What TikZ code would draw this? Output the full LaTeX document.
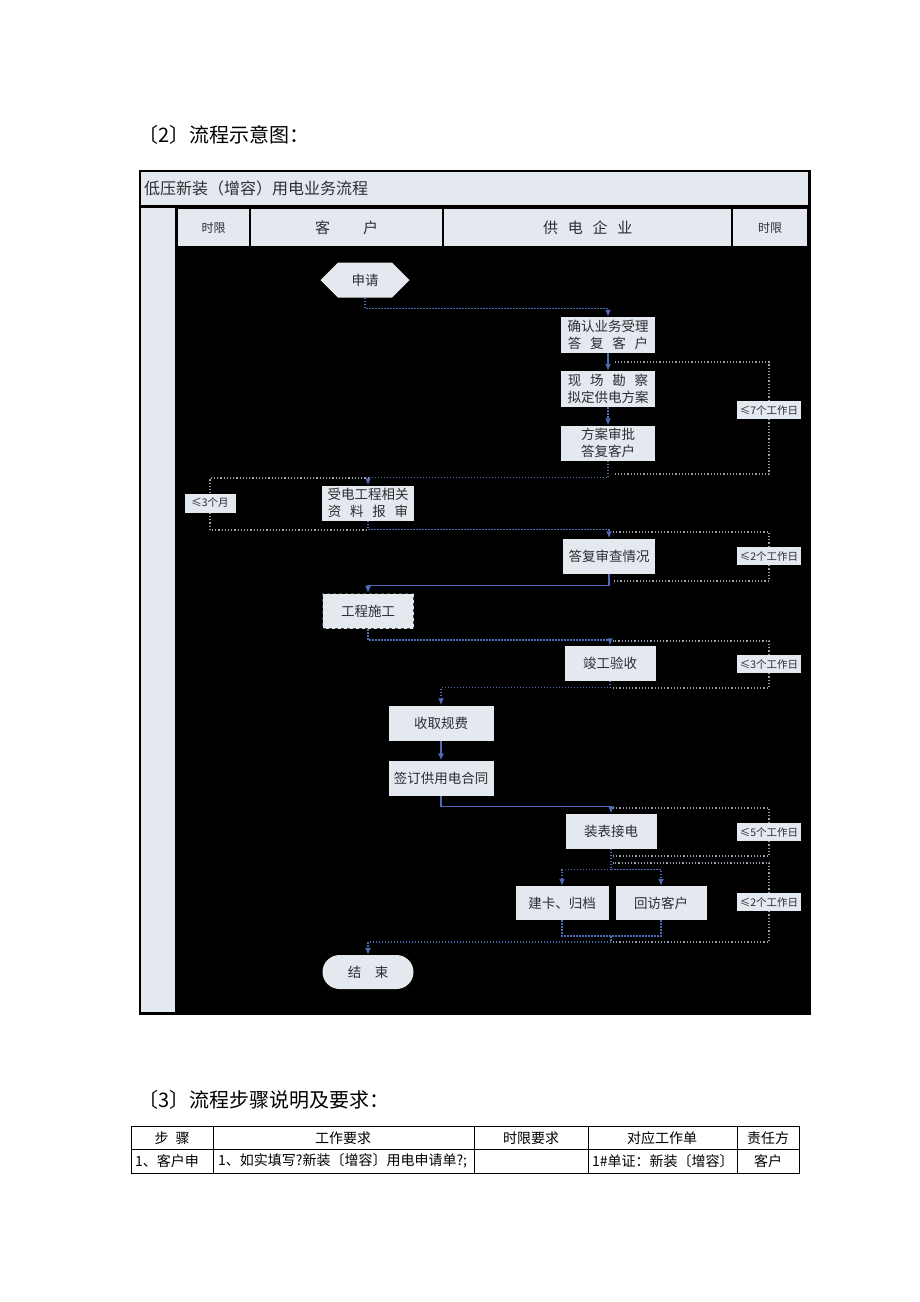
\documentclass[tikz,border=0pt]{standalone}
\usepackage{fontspec}
\setmainfont{Noto Sans CJK SC}
\usepackage{tikz}
\usetikzlibrary{arrows.meta,shapes.symbols}

\definecolor{boxfill}{RGB}{228,232,239}
\definecolor{boxtext}{RGB}{45,45,50}
\definecolor{flowblue}{RGB}{78,108,182}
\definecolor{limitgray}{RGB}{150,158,172}
\newcommand{\gap}{\hspace{0.65em}}

\begin{document}
\begin{tikzpicture}[x=1pt, y=-1pt, align=center, >={Latex[length=7pt,width=6pt]},
        stepbox/.style={fill=boxfill, text=boxtext, inner sep=0pt, minimum width=92pt, minimum height=35pt, font=\fontsize{13.5}{17}\selectfont},
        headcell/.style={fill=boxfill, text=boxtext, inner sep=0pt, minimum height=37pt, anchor=north west},
        daybox/.style={fill=boxfill, text=boxtext, inner sep=0pt, minimum width=64pt, minimum height=18pt, font=\fontsize{10.5}{12}\selectfont},
        flowline/.style={draw=flowblue, line width=1.2pt},
        flowdots/.style={flowline, line width=1.4pt, dash pattern=on 1.5pt off 1.5pt},
        limitline/.style={draw=limitgray, line width=1.2pt, dash pattern=on 1.2pt off 2pt},
        tabtext/.style={font=\fontsize{14}{16}\selectfont, inner sep=0pt}]
        \useasboundingbox (0,0) rectangle (920,1302);
        \fill[white] (0,0) rectangle (920,1302);

        \node[anchor=west, inner sep=0pt, font=\fontsize{20}{24}\selectfont] (Heading2) at (138,135) {〔2〕流程示意图：};

        \fill[black] (139,170) rectangle (811,1015);
        \node[fill=boxfill, text=boxtext, anchor=north west, text width=661pt, inner xsep=3pt, inner ysep=0pt, minimum height=33pt, align=left, font=\fontsize{16}{18}\selectfont] (Title) at (141,172) {低压新装（增容）用电业务流程};
        \fill[boxfill] (141,208) rectangle (175,1012);
        \node[headcell, minimum width=71pt, font=\fontsize{12}{14}\selectfont] (Time left) at (178,209) {时限};
        \node[headcell, minimum width=191pt, font=\fontsize{15}{17}\selectfont] (Customer) at (251,209) {客\hspace{2.2em}户};
        \node[headcell, minimum width=287pt, font=\fontsize{15}{17}\selectfont] (Supplier) at (444,209) {供\gap 电\gap 企\gap 业};
        \node[headcell, minimum width=74pt, font=\fontsize{12}{14}\selectfont] (Time right) at (733,209) {时限};

        \node[stepbox, shape=signal, signal to=west and east, minimum width=89pt] (Apply) at (365,280) {申请};
        \node[stepbox, minimum width=94pt, minimum height=36pt] (Confirm) at (608,335) {确认业务受理\\答\gap 复\gap 客\gap 户};
        \node[stepbox, minimum width=94pt, minimum height=36pt] (Survey) at (608,389) {现\gap 场\gap 勘\gap 察\\拟定供电方案};
        \node[stepbox, minimum width=94pt] (Approve) at (608,443) {方案审批\\答复客户};
        \node[stepbox] (Submit) at (368,503) {受电工程相关\\资\gap 料\gap 报\gap 审};
        \node[stepbox] (Reply) at (609,556) {答复审查情况};
        \node[stepbox, minimum width=91pt, draw=black!75, dashed, line width=1pt] (Build) at (368,611) {工程施工};
        \node[stepbox, minimum width=91pt] (Accept) at (610,663) {竣工验收};
        \node[stepbox, minimum width=105pt] (Fee) at (441,723) {收取规费};
        \node[stepbox, minimum width=105pt] (Sign) at (441,778) {签订供用电合同};
        \node[stepbox, minimum width=91pt] (Install) at (611,831) {装表接电};
        \node[stepbox, minimum width=93pt, minimum height=34pt] (Card) at (562,903) {建卡、归档};
        \node[stepbox, minimum width=91pt, minimum height=34pt] (Visit) at (661,903) {回访客户};
        \node[stepbox, minimum width=91pt, minimum height=34pt, rounded corners=17pt] (End) at (368,972) {结\hspace{1em}束};

        \node[daybox] (Day7) at (769,410) {≤7个工作日};
        \node[daybox, minimum width=51pt, minimum height=19pt] (Month3) at (210,503) {≤3个月};
        \node[daybox] (Day2a) at (769,556) {≤2个工作日};
        \node[daybox] (Day3) at (769,664) {≤3个工作日};
        \node[daybox] (Day5) at (769,832) {≤5个工作日};
        \node[daybox] (Day2b) at (769,902) {≤2个工作日};

        \coordinate (Merge) at (611,936);
        \coordinate (Day7 top) at (613,362);
        \coordinate (Day7 bottom) at (613,474);
        \coordinate (Month3 top) at (368,478);
        \coordinate (Month3 bottom) at (368,530);
        \coordinate (Day2a top) at (613,532);
        \coordinate (Day2a bottom) at (613,581);
        \coordinate (Day3 top) at (613,641);
        \coordinate (Day3 bottom) at (613,688);
        \coordinate (Day5 top) at (613,808);
        \coordinate (Day5 bottom) at (613,856);
        \coordinate (Day2b top) at (613,863);
        \coordinate (Day2b bottom) at (613,942);

        \draw[flowdots, ->] (Apply.south) -- ++(0,11) -| (Confirm.north);
        \draw[flowline, ->] (Confirm) -- (Survey);
        \draw[flowdots, ->] (Survey) -- (Approve);
        \draw[flowdots, ->] (Approve.south) -- ++(0,17) -| (Submit.north);
        \draw[flowdots, ->] (Submit.south) -- ++(0,9) -| (Reply.north);
        \draw[flowline, ->] (Reply.south) -- ++(0,12) -| (Build.north);
        \draw[flowdots, ->] (Build.south) -- ++(0,11) -| (Accept.north);
        \draw[flowdots, ->] (Accept.south) -- ++(0,7) -| (Fee.north);
        \draw[flowline, ->] (Fee) -- (Sign);
        \draw[flowline, ->] (Sign.south) -- ++(0,11) -| (Install.north);
        \draw[flowdots, ->] (Install.south) -- ++(0,21) -| (Card.north);
        \draw[flowdots, ->] (Install.south) -- ++(0,21) -| (Visit.north);
        \draw[flowdots] (Card.south) |- (Merge) -| (Visit.south);
        \draw[flowdots, ->] (Merge) -- ++(0,6) -| (End.north);

        \draw[limitline] (Day7.north) |- (Day7 top);
        \draw[limitline] (Day7.south) |- (Day7 bottom);
        \draw[limitline] (Month3.north) |- (Month3 top);
        \draw[limitline] (Month3.south) |- (Month3 bottom);
        \draw[limitline] (Day2a.north) |- (Day2a top);
        \draw[limitline] (Day2a.south) |- (Day2a bottom);
        \draw[limitline] (Day3.north) |- (Day3 top);
        \draw[limitline] (Day3.south) |- (Day3 bottom);
        \draw[limitline] (Day5.north) |- (Day5 top);
        \draw[limitline] (Day5.south) |- (Day5 bottom);
        \draw[limitline] (Day2b.north) |- (Day2b top);
        \draw[limitline] (Day2b.south) |- (Day2b bottom);

        \node[anchor=west, inner sep=0pt, font=\fontsize{20}{24}\selectfont] (Heading3) at (138,1100) {〔3〕流程步骤说明及要求：};

        \draw[line width=0.8pt] (131,1126) rectangle (799,1173);
        \draw[line width=0.8pt] (131,1149) -- (799,1149);
        \foreach \x in {213,474,588,737}
            \draw[line width=0.8pt] (\x,1126) -- (\x,1173);
        \node[tabtext] (Step head) at (172,1138) {步\hspace{0.5em}骤};
        \node[tabtext] (Work head) at (343,1138) {工作要求};
        \node[tabtext] (Limit head) at (531,1138) {时限要求};
        \node[tabtext] (Form head) at (662,1138) {对应工作单};
        \node[tabtext] (Duty head) at (768,1138) {责任方};
        \node[tabtext, anchor=west] (Step one) at (135,1161) {1、客户申};
        \node[tabtext, anchor=west] (Work one) at (218,1161) {1、如实填写?新装〔增容〕用电申请单?;};
        \node[tabtext, anchor=west] (Form one) at (592,1161) {1\#单证：新装〔增容〕};
        \node[tabtext] (Duty one) at (768,1161) {客户};
    \end{tikzpicture}
\end{document}
